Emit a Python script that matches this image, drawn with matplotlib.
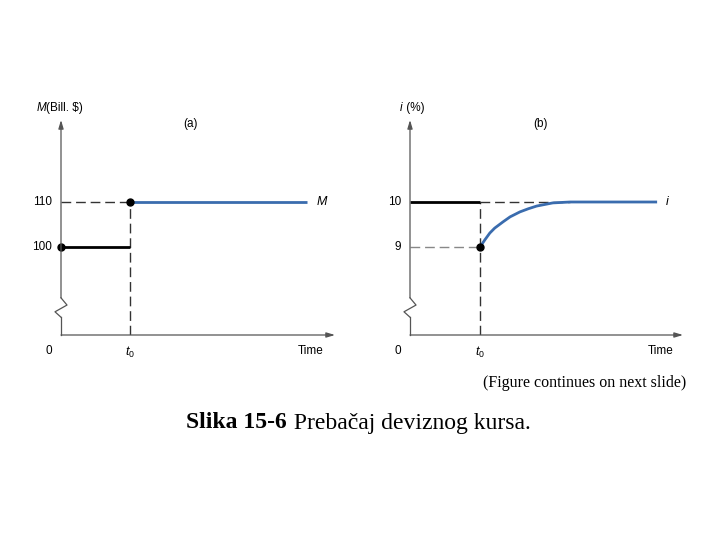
import numpy as np
import matplotlib
matplotlib.use("Agg")
import matplotlib.pyplot as plt

# Panel (a): money supply M (Bill. $)
m_before_t = [0.0, 1.0]
m_before = [100, 100]
m_after_t = [1.0, 3.57]
m_after = [110, 110]

# Panel (b): interest rate i (%)
i_before_t = [0.0, 1.0]
i_before = [10, 10]
i_after_t = [1.0, 1.07, 1.14, 1.21, 1.33, 1.43, 1.57, 1.69, 1.81, 2.04, 2.29, 3.53]
i_after = [9.0, 9.16, 9.31, 9.42, 9.56, 9.67, 9.78, 9.85, 9.91, 9.98, 10.0, 10.0]

BLUE = "#3a6cae"
AXC = "#555555"
DASH = (0, (7, 3.5))
SANS = "Liberation Sans"
SERIF = "Liberation Serif"
FS = 8.5

W, H = 720, 540
fig = plt.figure(figsize=(7.2, 5.4), dpi=100)

plt.rcParams["mathtext.fontset"] = "custom"
plt.rcParams["mathtext.it"] = "Liberation Sans:italic"
plt.rcParams["mathtext.rm"] = "Liberation Sans"


def px_axes(left, right, bottom, top):
    return fig.add_axes([left / W, (H - bottom) / H, (right - left) / W, (bottom - top) / H])


def draw_panel(ax, xmax, ylo, yhi, lo_val, hi_val, zig, time_gap):
    ax.set_xlim(0, xmax)
    ax.set_ylim(ylo, yhi)
    ax.axis("off")
    head = "-|>,head_length=0.5,head_width=0.15"
    # y axis with a break
    ax.annotate("", xy=(0, yhi), xytext=(0, zig[0][1]),
                arrowprops=dict(arrowstyle=head, color=AXC, lw=0.9, shrinkA=0, shrinkB=0))
    ax.plot([0, 0], [ylo, zig[-1][1]], color=AXC, lw=0.9, clip_on=False)
    ax.plot([z[0] for z in zig], [z[1] for z in zig], color=AXC, lw=0.9, clip_on=False)
    # x axis
    ax.annotate("", xy=(xmax, ylo), xytext=(0, ylo),
                arrowprops=dict(arrowstyle=head, color=AXC, lw=0.9, shrinkA=0, shrinkB=0))
    # vertical dashed at t0
    ax.plot([1, 1], [ylo, hi_val], color="#333333", lw=1.0, ls=DASH)
    for yv in (lo_val, hi_val):
        ax.text(-0.13, yv, str(yv), ha="right", va="center", fontsize=FS, family=SANS)
    dy = (yhi - ylo) * 0.075
    ax.text(-0.17, ylo - dy, "0", ha="center", va="center", fontsize=FS, family=SANS)
    ax.text(1.0, ylo - dy * 1.08, "$t_0$", ha="center", va="center", fontsize=FS + 0.5)
    ax.text(xmax - time_gap, ylo - dy, "Time", ha="right", va="center", fontsize=FS, family=SANS)


def axis_title(ax, x, y, var, rest):
    t = ax.text(x, y, var, ha="left", va="center", fontsize=FS, family=SANS, style="italic")
    fig.canvas.draw()
    bb = t.get_window_extent()
    fig.text((bb.x1 + 0.5) / W, bb.y0 / H + (bb.y1 - bb.y0) / (2 * H), rest, ha="left",
             va="center", fontsize=FS, family=SANS)


# ---- panel (a)
ax1 = px_axes(61, 335, 335, 120)
ya_lo, ya_hi = 110 - 133 / 4.5, 110 + 82 / 4.5
zig_a = [(0, 88.7), (0.087, 87.1), (-0.087, 85.6), (0, 84.4)]
draw_panel(ax1, 3.97, ya_lo, ya_hi, 100, 110, zig_a, 0.16)
ax1.plot([0, 1], [110, 110], color="#333333", lw=1.0, ls=DASH)
ax1.plot(m_before_t, m_before, color="black", lw=2.0, solid_capstyle="butt")
ax1.plot(m_after_t, m_after, color=BLUE, lw=2.0, solid_capstyle="butt")
ax1.plot([m_before_t[0]], [m_before[0]], "o", color="black", ms=5, clip_on=False)
ax1.plot([m_after_t[0]], [m_after[0]], "o", color="black", ms=5, clip_on=False)
ax1.text(3.78, 110, "M", ha="center", va="center", fontsize=FS + 0.5, family=SANS, style="italic")
axis_title(ax1, -0.36, ya_hi + 2.6, "M", "(Bill. $)")
ax1.text(1.87, ya_hi - 0.8, "(a)", ha="center", va="center", fontsize=FS, family=SANS)

# ---- panel (b)
ax2 = px_axes(410, 683, 335, 120)
yb_lo, yb_hi = 10 - 133 / 45, 10 + 82 / 45
zig_b = [(0, 7.87), (0.086, 7.71), (-0.086, 7.56), (0, 7.44)]
draw_panel(ax2, 3.9, yb_lo, yb_hi, 9, 10, zig_b, 0.14)
ax2.plot([1, 2.29], [10, 10], color="#333333", lw=1.0, ls=DASH)
ax2.plot([0, 1], [9, 9], color="#888888", lw=1.0, ls=DASH)
ax2.plot(i_before_t, i_before, color="black", lw=2.0, solid_capstyle="butt")
ax2.plot(i_after_t, i_after, color=BLUE, lw=2.0, solid_capstyle="butt")
ax2.plot([i_after_t[0]], [i_after[0]], "o", color="black", ms=5)
ax2.text(3.68, 10, "i", ha="center", va="center", fontsize=FS + 0.5, family=SANS, style="italic")
axis_title(ax2, -0.14, yb_hi + 0.26, "i", " (%)")
ax2.text(1.87, yb_hi - 0.08, "(b)", ha="center", va="center", fontsize=FS, family=SANS)

# ---- captions
fig.text(686 / W, 1 - 383 / H, "(Figure continues on next slide)", ha="right", va="center",
         fontsize=11.5, family=SERIF)
cap = fig.text(186 / W, 1 - 423 / H, "Slika 15-6", ha="left", va="center", fontsize=17,
               family=SERIF, weight="bold")
fig.canvas.draw()
bb = cap.get_window_extent()
fig.text((bb.x1 + 1) / W, 1 - 423 / H, " Prebačaj deviznog kursa.", ha="left", va="center",
         fontsize=17, family=SERIF)

fig.savefig("out.png", dpi=100)
